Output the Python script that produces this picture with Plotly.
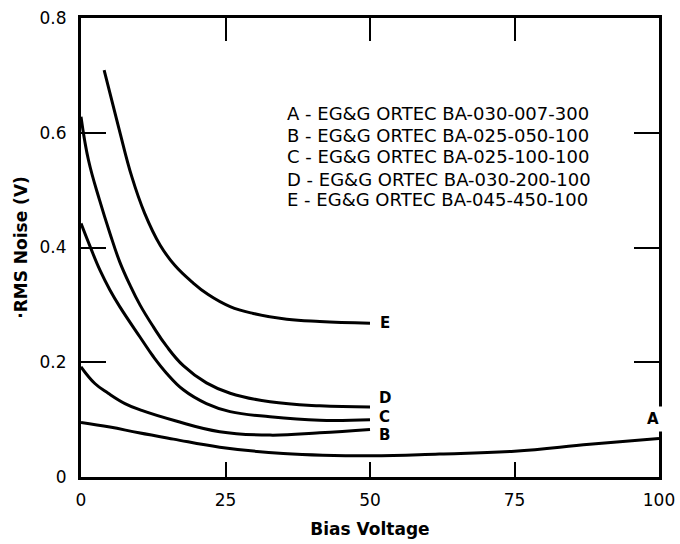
import plotly.graph_objects as go

# ---- data ----
a_x = [0, 5, 10, 16, 24, 35, 50, 62, 75, 88, 100]
a_y = [0.095, 0.087, 0.077, 0.066, 0.052, 0.041, 0.037, 0.040, 0.045, 0.057, 0.067]

b_x = [0, 2.4, 4.7, 7.6, 10.5, 16.3, 24, 32.7, 41.3, 50]
b_y = [0.192, 0.163, 0.146, 0.128, 0.116, 0.098, 0.079, 0.073, 0.077, 0.083]

c_x = [0, 1.6, 3.3, 5.0, 6.7, 10.2, 12.5, 14.8, 17.7, 21.7, 25.8, 32.7, 41.3, 50]
c_y = [0.442, 0.401, 0.360, 0.326, 0.297, 0.244, 0.210, 0.181, 0.152, 0.128, 0.114, 0.105, 0.099, 0.100]

d_x = [0, 1.3, 3.2, 5.0, 6.7, 8.5, 10.2, 12.5, 14.8, 17.7, 21.7, 25.8, 32.7, 41.3, 50]
d_y = [0.628, 0.552, 0.483, 0.425, 0.375, 0.334, 0.300, 0.262, 0.228, 0.194, 0.164, 0.146, 0.131, 0.124, 0.122]

e_x = [4.0, 6.5, 8.8, 11.0, 13.7, 16.3, 19.2, 22, 25.8, 29.8, 35.6, 41.3, 50]
e_y = [0.709, 0.610, 0.523, 0.460, 0.404, 0.368, 0.340, 0.318, 0.297, 0.285, 0.275, 0.271, 0.268]

series_names = ["A", "B", "C", "D", "E"]
legend_lines = [
    "A - EG&G ORTEC BA-030-007-300",
    "B - EG&G ORTEC BA-025-050-100",
    "C - EG&G ORTEC BA-025-100-100",
    "D - EG&G ORTEC BA-030-200-100",
    "E - EG&G ORTEC BA-045-450-100",
]
x_ticks = [0, 25, 50, 75, 100]
y_ticks = [0, 0.2, 0.4, 0.6, 0.8]
y_tick_labels = ["0", "0.2", "0.4", "0.6", "0.8"]

fig = go.Figure()
for xs, ys in [(a_x, a_y), (b_x, b_y), (c_x, c_y), (d_x, d_y), (e_x, e_y)]:
    fig.add_trace(go.Scatter(x=xs, y=ys, mode="lines",
                             line=dict(color="black", width=3, shape="spline", smoothing=1.2),
                             showlegend=False, hoverinfo="skip"))
# dummy trace for top axis ticks
fig.add_trace(go.Scatter(x=[None], y=[None], xaxis="x2", showlegend=False, hoverinfo="skip"))

bold = dict(family="DejaVu Sans", size=17, color="black")
label_font = dict(family="DejaVu Sans", size=15, color="black")

# end-of-curve labels
label_pos = {"A": (99.0, 0.101), "B": (51.3, 0.073), "C": (51.3, 0.105), "D": (51.3, 0.137), "E": (51.5, 0.268)}
for name in series_names:
    lx, ly = label_pos[name]
    fig.add_annotation(x=lx, y=ly, text="<b>%s</b>" % name, showarrow=False,
                       xanchor="center" if name == "A" else "left", yanchor="middle",
                       font=label_font, bgcolor="white" if name == "A" else None,
                       borderpad=3 if name == "A" else 0)

legend_y = [0.634, 0.596, 0.559, 0.519, 0.483]
for txt, ly in zip(legend_lines, legend_y):
    fig.add_annotation(x=35.3, y=ly, text=txt, showarrow=False, xanchor="left", yanchor="middle",
                       font=dict(family="DejaVu Sans", size=18, color="black"))

fig.update_layout(
    width=680, height=544,
    margin=dict(l=81, r=21, t=18, b=67, autoexpand=False),
    paper_bgcolor="white", plot_bgcolor="white",
    xaxis=dict(range=[0, 100], tickvals=x_ticks, ticktext=[str(v) for v in x_ticks],
               ticks="inside", ticklen=15, tickwidth=2, tickcolor="black",
               showline=True, linewidth=3, linecolor="black", mirror=True,
               showgrid=False, zeroline=False, tickfont=bold, ticklabelstandoff=6,
               automargin=False,
               title=dict(text="<b>Bias Voltage</b>", font=bold, standoff=14)),
    xaxis2=dict(range=[0, 100], overlaying="x", side="top", tickvals=[25, 50, 75],
                ticks="inside", ticklen=23, tickwidth=2, tickcolor="black", automargin=False,
                showticklabels=False, showgrid=False, zeroline=False, showline=False),
    yaxis=dict(range=[0, 0.8], tickvals=y_ticks, ticktext=y_tick_labels,
               ticks="inside", ticklen=25, tickwidth=2, tickcolor="black",
               showline=True, linewidth=3, linecolor="black", mirror="ticks",
               showgrid=False, zeroline=False, tickfont=bold, ticklabelstandoff=8,
               automargin=False,
               title=dict(text="<b>·RMS Noise (V)</b>", font=bold, standoff=8)),
)
fig.write_html("out.html", config={"displayModeBar": False},
               post_script="document.body.style.margin='0';document.body.style.overflow='hidden';")
